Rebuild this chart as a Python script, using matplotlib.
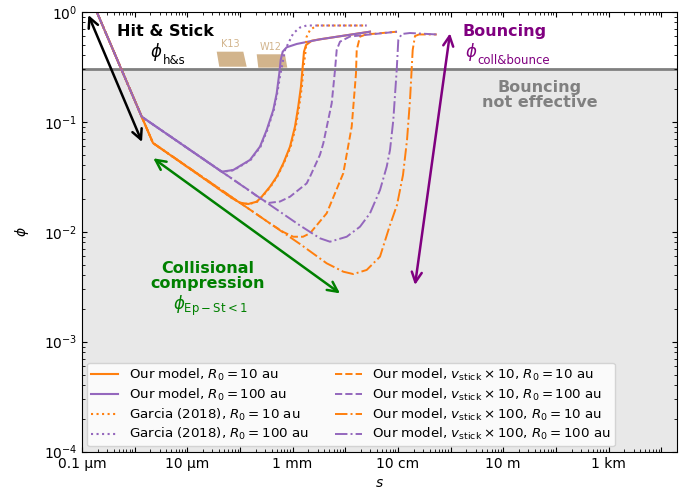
import matplotlib
matplotlib.use("Agg")
import matplotlib.pyplot as plt
from matplotlib.ticker import FixedLocator, LogLocator, NullFormatter, FixedFormatter
from matplotlib.patches import Polygon

ORANGE = '#ff7f0e'
PURPLE = '#9467bd'

# ---- data: s in metres, phi = filling factor ----
s_model_10 = [1.9e-7, 2.23e-6, 7.06e-5, 1.00e-4, 1.44e-4, 2.08e-4, 2.59e-4, 3.72e-4, 4.99e-4,
              6.66e-4, 8.93e-4, 1.11e-3, 1.28e-3, 1.44e-3, 1.555e-3, 1.646e-3, 1.80e-3, 2.31e-3,
              3.31e-3, 2.95e-2]
phi_model_10 = [1.0, 0.064, 0.0202, 0.01835, 0.01786, 0.01874, 0.0208, 0.02565, 0.0316,
                0.0418, 0.0593, 0.0901, 0.137, 0.208, 0.316, 0.433, 0.498, 0.545,
                0.561, 0.658]

s_model_100 = [1.9e-7, 1.36e-6, 2.94e-5, 4.50e-5, 7.48e-5, 1.55e-4, 2.40e-4, 3.22e-4, 4.30e-4,
               4.99e-4, 5.59e-4, 5.94e-4, 6.49e-4, 7.73e-4, 1.20e-3, 3.31e-3, 2.95e-2]
phi_model_100 = [1.0, 0.111, 0.0404, 0.0351, 0.0364, 0.0449, 0.0593, 0.0840, 0.128,
                 0.181, 0.275, 0.364, 0.433, 0.475, 0.509, 0.561, 0.658]

s_garcia_10 = [1.9e-7, 2.23e-6, 7.06e-5, 1.02e-4, 1.46e-4, 2.12e-4, 2.65e-4, 3.8e-4, 5.1e-4,
               6.8e-4, 9.2e-4, 1.15e-3, 1.33e-3, 1.50e-3, 1.62e-3, 1.76e-3, 1.85e-3, 2.14e-3,
               2.87e-3, 2.555e-2]
phi_garcia_10 = [1.0, 0.064, 0.0202, 0.0183, 0.0178, 0.0187, 0.0208, 0.0256, 0.0316,
                 0.0418, 0.0593, 0.0901, 0.137, 0.208, 0.316, 0.433, 0.593, 0.682,
                 0.749, 0.749]

s_garcia_100 = [1.9e-7, 1.36e-6, 2.94e-5, 4.6e-5, 7.6e-5, 1.58e-4, 2.45e-4, 3.3e-4, 4.4e-4,
                5.1e-4, 5.76e-4, 7.17e-4, 1.03e-3, 1.38e-3, 1.85e-3, 2.555e-2]
phi_garcia_100 = [1.0, 0.111, 0.0404, 0.0350, 0.0362, 0.0447, 0.059, 0.084, 0.128,
                  0.181, 0.257, 0.449, 0.636, 0.718, 0.749, 0.749]

s_v10_10 = [1.9e-7, 2.23e-6, 3.72e-4, 6.66e-4, 1.03e-3, 1.576e-3, 2.14e-3, 4.44e-3, 9.18e-3,
            1.326e-2, 1.60e-2, 1.65e-2, 1.906e-2, 2.477e-2, 9.62e-2]
phi_v10_10 = [1.0, 0.064, 0.0119, 0.00994, 0.0090, 0.0090, 0.00967, 0.0147, 0.0340,
              0.0901, 0.275, 0.449, 0.593, 0.621, 0.658]

s_v10_100 = [1.9e-7, 1.36e-6, 1.55e-4, 2.20e-4, 3.41e-4, 5.76e-4, 8.93e-4, 1.85e-3, 2.14e-3,
             3.31e-3, 3.83e-3, 5.53e-3, 6.39e-3, 6.88e-3, 7.95e-3, 1.231e-2, 9.62e-2]
phi_v10_100 = [1.0, 0.111, 0.02344, 0.0207, 0.01823, 0.01881, 0.0208, 0.0275, 0.0316,
               0.050, 0.0636, 0.147, 0.295, 0.449, 0.534, 0.595, 0.658]

s_v100_10 = [1.9e-7, 2.23e-6, 1.38e-3, 4.44e-3, 9.18e-3, 1.422e-2, 2.555e-2, 4.57e-2, 7.08e-2,
             9.62e-2, 1.25e-1, 1.49e-1, 1.698e-1, 1.91e-1, 2.113e-1, 2.517e-1, 5.46e-1]
phi_v100_10 = [1.0, 0.064, 0.00773, 0.00516, 0.00433, 0.00412, 0.00449, 0.00593, 0.0115,
               0.0175, 0.0328, 0.0682, 0.1575, 0.449, 0.601, 0.621, 0.621]

s_v100_100 = [1.9e-7, 1.36e-6, 1.38e-3, 3.31e-3, 5.13e-3, 1.066e-2, 1.906e-2, 2.95e-2, 4.57e-2,
              6.13e-2, 7.08e-2, 8.18e-2, 9.49e-2, 1.018e-1, 1.18e-1, 1.698e-1, 5.46e-1]
phi_v100_100 = [1.0, 0.111, 0.01139, 0.00871, 0.00811, 0.0090, 0.0111, 0.0147, 0.0239,
                0.039, 0.0553, 0.1036, 0.295, 0.553, 0.627, 0.640, 0.621]

# experimental regions (K13, W12)
k13_s = [3.62e-5, 1.158e-4, 1.343e-4, 4.05e-5]
k13_phi = [0.433, 0.433, 0.316, 0.316]
w12_s = [2.08e-4, 7.17e-4, 7.93e-4, 2.23e-4]
w12_phi = [0.41, 0.41, 0.31, 0.31]

phi_bounce_limit = 0.3

xtick_values = [1e-7, 1e-5, 1e-3, 1e-1, 1e1, 1e3]
xtick_labels = ['0.1 µm', '10 µm', '1 mm', '10 cm', '10 m', '1 km']

legend_labels = [
    r'Our model, $R_0 = 10$ au',
    r'Our model, $R_0 = 100$ au',
    r'Garcia (2018), $R_0 = 10$ au',
    r'Garcia (2018), $R_0 = 100$ au',
    r'Our model, $v_{\rm stick}\times 10$, $R_0 = 10$ au',
    r'Our model, $v_{\rm stick}\times 10$, $R_0 = 100$ au',
    r'Our model, $v_{\rm stick}\times 100$, $R_0 = 10$ au',
    r'Our model, $v_{\rm stick}\times 100$, $R_0 = 100$ au',
]

fig = plt.figure(figsize=(6.91, 4.95), dpi=100)
ax = fig.add_axes([82/691, 43.3/495, 595/691, 440/495])
ax.set_xscale('log')
ax.set_yscale('log')
ax.set_xlim(1e-7, 2e4)
ax.set_ylim(1e-4, 1)

ax.axhspan(1e-4, phi_bounce_limit, color='#e8e8e8', zorder=0)
ax.axhline(phi_bounce_limit, color='gray', lw=2, zorder=1)

ax.add_patch(Polygon(list(zip(k13_s, k13_phi)), closed=True, facecolor='tan', edgecolor='none', zorder=1))
ax.add_patch(Polygon(list(zip(w12_s, w12_phi)), closed=True, facecolor='tan', edgecolor='none', zorder=1))
ax.text(6.47e-5, 0.509, 'K13', color='tan', fontsize=7, ha='center', va='center')
ax.text(3.89e-4, 0.475, 'W12', color='tan', fontsize=7, ha='center', va='center')

lines = []
lines += ax.plot(s_model_10, phi_model_10, color=ORANGE, ls='-', lw=1.5)
lines += ax.plot(s_model_100, phi_model_100, color=PURPLE, ls='-', lw=1.5)
lines += ax.plot(s_garcia_10, phi_garcia_10, color=ORANGE, ls=':', lw=1.5)
lines += ax.plot(s_garcia_100, phi_garcia_100, color=PURPLE, ls=':', lw=1.5)
lines += ax.plot(s_v10_10, phi_v10_10, color=ORANGE, ls='--', lw=1.4)
lines += ax.plot(s_v10_100, phi_v10_100, color=PURPLE, ls='--', lw=1.4)
lines += ax.plot(s_v100_10, phi_v100_10, color=ORANGE, ls='-.', lw=1.4)
lines += ax.plot(s_v100_100, phi_v100_100, color=PURPLE, ls='-.', lw=1.4)

# annotations
arrow_kw = dict(arrowstyle='<->', mutation_scale=18, shrinkA=0, shrinkB=0)
ax.annotate('', xy=(1.32e-7, 0.933), xytext=(1.38e-6, 0.0654),
            arrowprops=dict(color='black', lw=1.8, **arrow_kw))
ax.annotate('', xy=(2.26e-6, 0.0465), xytext=(7.95e-3, 0.00275),
            arrowprops=dict(color='green', lw=1.8, **arrow_kw))
ax.annotate('', xy=(0.976, 0.636), xytext=(0.2113, 0.00328),
            arrowprops=dict(color='purple', lw=1.8, **arrow_kw))


def phi_label(x, y, sub, color):
    t = ax.text(x, y, r'$\phi$', fontsize=12, color=color, ha='center', va='center')
    ax.annotate(sub, xy=(1.0, 0.12), xycoords=t, xytext=(0.5, 0), textcoords='offset points',
                fontsize=8.5, color=color, ha='left', va='center')


ax.text(3.77e-6, 0.658, 'Hit & Stick', fontsize=11.5, fontweight='bold', ha='center', va='center')
phi_label(2.54e-6, 0.433, 'h&s', 'black')
ax.text(10.8, 0.658, 'Bouncing', fontsize=11.5, fontweight='bold', color='purple', ha='center', va='center')
phi_label(2.44, 0.433, 'coll&bounce', 'purple')
ax.text(50, 0.175, 'Bouncing\nnot effective', fontsize=11.5, fontweight='bold', color='gray',
        ha='center', va='center', linespacing=1.0)
ax.text(2.47e-5, 0.00396, 'Collisional\ncompression', fontsize=11.5, fontweight='bold', color='green',
        ha='center', va='center', linespacing=1.0)
ax.text(2.70e-5, 0.00211, r'$\phi_{\rm Ep-St<1}$', fontsize=12, color='green', ha='center', va='center')

# ticks
ax.xaxis.set_major_locator(FixedLocator([10.0**k for k in range(-7, 5)]))
ax.xaxis.set_major_formatter(FixedFormatter(
    [xtick_labels[xtick_values.index(10.0**k)] if 10.0**k in xtick_values else '' for k in range(-7, 5)]))
ax.xaxis.set_minor_locator(LogLocator(base=10, subs=range(2, 10), numticks=30))
ax.xaxis.set_minor_formatter(NullFormatter())
ax.yaxis.set_minor_locator(LogLocator(base=10, subs=range(2, 10), numticks=30))
ax.yaxis.set_minor_formatter(NullFormatter())
ax.tick_params(which='both', direction='in', top=True, right=True)

ax.set_xlabel(r'$s$')
ax.set_ylabel(r'$\phi$', labelpad=9)

ax.legend(lines, legend_labels, loc='lower left', ncol=2, fontsize=9.6,
          labelspacing=0.28, borderpad=0.3, borderaxespad=0.4)

fig.savefig('out.png', dpi=100)
